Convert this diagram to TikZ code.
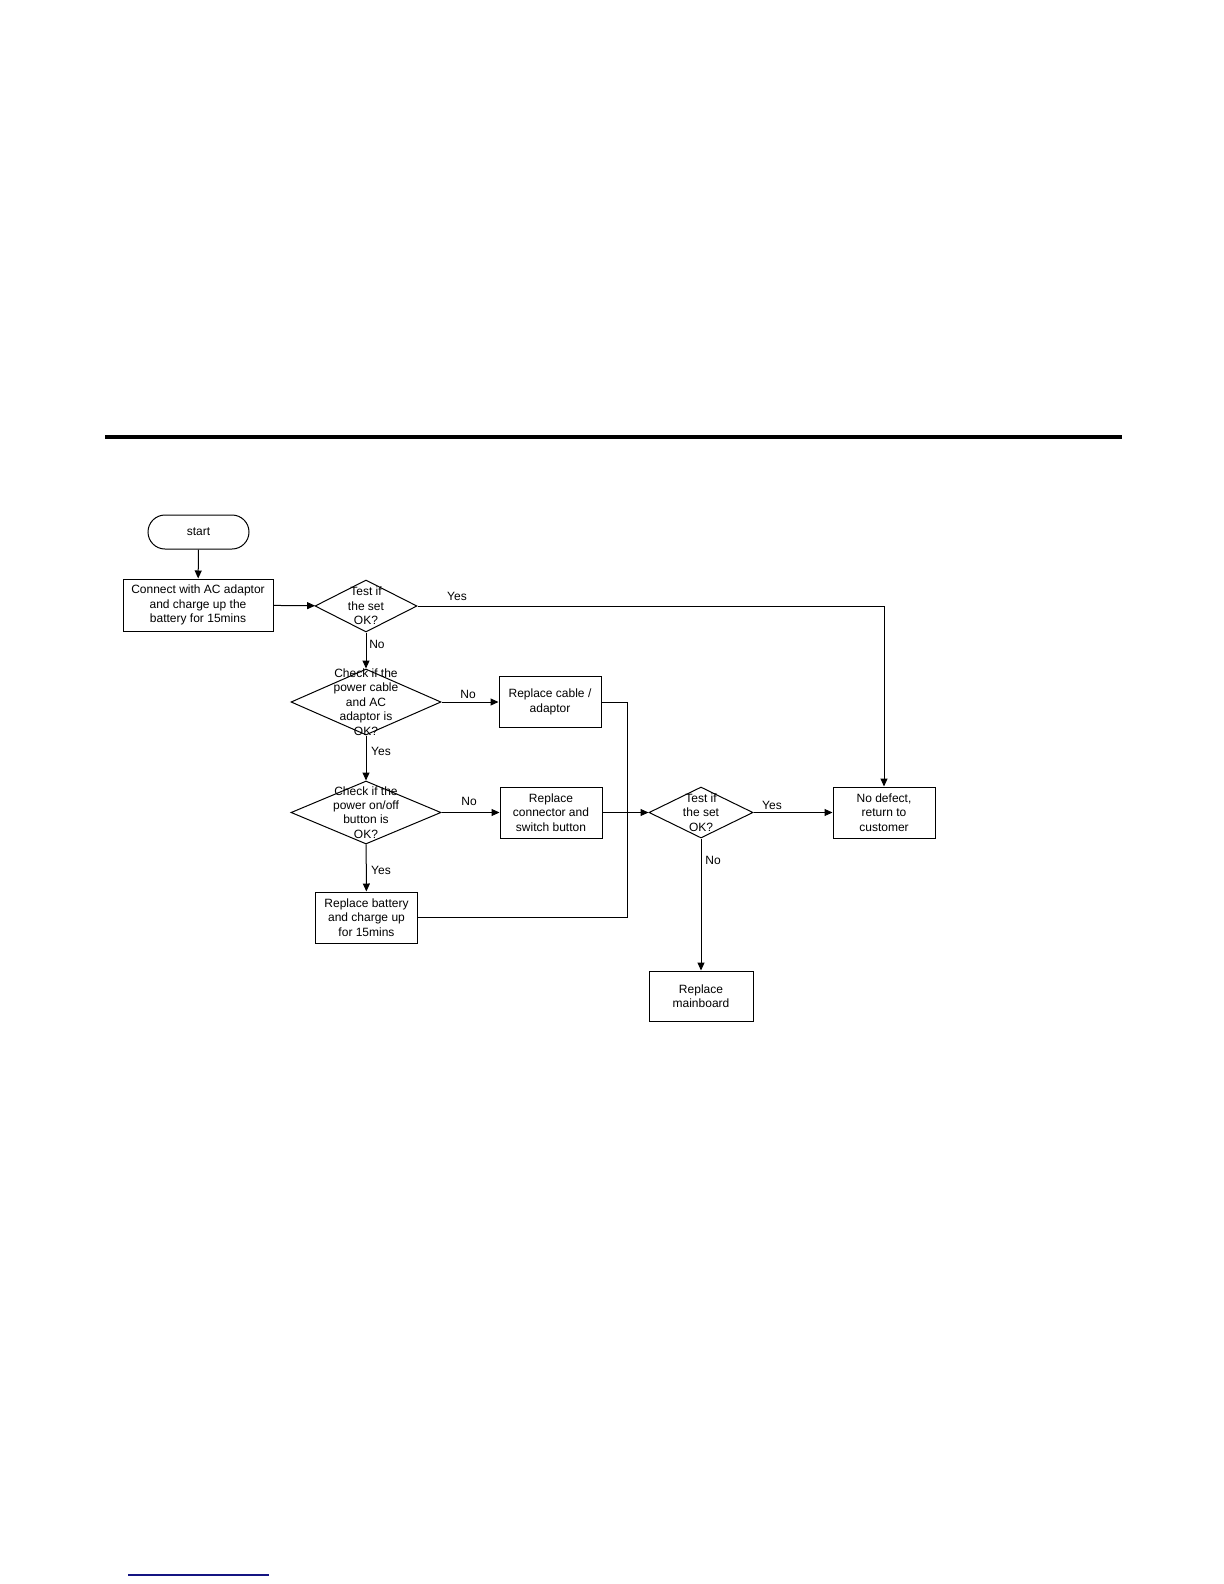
\documentclass[tikz,border=0pt]{standalone}
\usepackage{fontspec}
\setmainfont{Liberation Sans}
\usetikzlibrary{shapes.geometric,arrows.meta}
\definecolor{linkblue}{RGB}{20,20,130}
\begin{document}
\begin{tikzpicture}[x=0.5pt,y=-0.5pt,
  every node/.style={font=\fontsize{6}{7.2}\selectfont},
  box/.style={draw,line width=0.5pt,minimum width=51pt,minimum height=25.5pt,inner sep=0pt,align=center},
  dia/.style={draw,diamond,inner sep=0pt,line width=0.5pt},
  term/.style={draw,line width=0.5pt,rounded corners=8.5pt,minimum width=50.5pt,minimum height=17pt,inner sep=0pt},
  arr/.style={line width=0.5pt,-{Triangle[length=4pt,width=3.5pt]}},
  conn/.style={line width=0.5pt},
  lab/.style={inner sep=0pt},
  dlab/.style={align=center,inner sep=0pt}
]
\useasboundingbox (0,0) rectangle (1224,1584);
\fill (105,435) rectangle (1122,439);
\draw[linkblue,line width=0.6pt] (128,1575) -- (269,1575);

\node[term] (start) at (198.5,532) {start};
\node[box,minimum width=75pt,minimum height=26pt] (connect) at (198,605) {Connect with AC adaptor\\and charge up the\\battery for 15mins};
\node[dia,minimum width=51pt,minimum height=26pt,label={[dlab]center:Test if\\the set\\OK?}] (d1) at (366,606) {};
\node[dia,minimum width=75pt,minimum height=33pt,label={[dlab]center:Check if the\\power cable\\and AC\\adaptor is\\OK?}] (d2) at (366,702) {};
\node[box] (cable) at (550,702) {Replace cable /\\adaptor};
\node[dia,minimum width=75pt,minimum height=31.5pt,label={[dlab]center:Check if the\\power on/off\\button is\\OK?}] (d3) at (366,812.5) {};
\node[box] (connsw) at (551,812.5) {Replace\\connector and\\switch button};
\node[box,minimum height=25.5pt] (batt) at (366.5,917.5) {Replace battery\\and charge up\\for 15mins};
\node[dia,minimum width=52pt,minimum height=25.5pt,label={[dlab]center:Test if\\the set\\OK?}] (d4) at (701,812.5) {};
\node[box] (nodef) at (884,812.5) {No defect,\\return to\\customer};
\node[box,minimum width=52pt,minimum height=25pt] (main) at (701,996) {Replace\\mainboard};
\coordinate (j) at (627,917.5);

\draw[arr] (start) -- (connect);
\draw[arr] (connect) -- (d1);
\draw[arr] (d1.east) -| (nodef.north);
\draw[arr] (d1) -- (d2);
\draw[arr] (d2) -- (cable);
\draw[arr] (d2) -- (d3);
\draw[arr] (d3) -- (connsw);
\draw[arr] (d3) -- (batt);
\draw[conn] (cable.east) -| (j) -- (batt.east);
\draw[arr] (connsw) -- (d4);
\draw[arr] (d4) -- (nodef);
\draw[arr] (d4) -- (main);

\node[lab] (l1) at (457,596) {Yes};
\node[lab] (l2) at (377,644) {No};
\node[lab] (l3) at (468,694) {No};
\node[lab] (l4) at (381,751) {Yes};
\node[lab] (l5) at (469,801) {No};
\node[lab] (l6) at (381,870) {Yes};
\node[lab] (l7) at (772,805) {Yes};
\node[lab] (l8) at (713,860) {No};
\end{tikzpicture}
\end{document}
